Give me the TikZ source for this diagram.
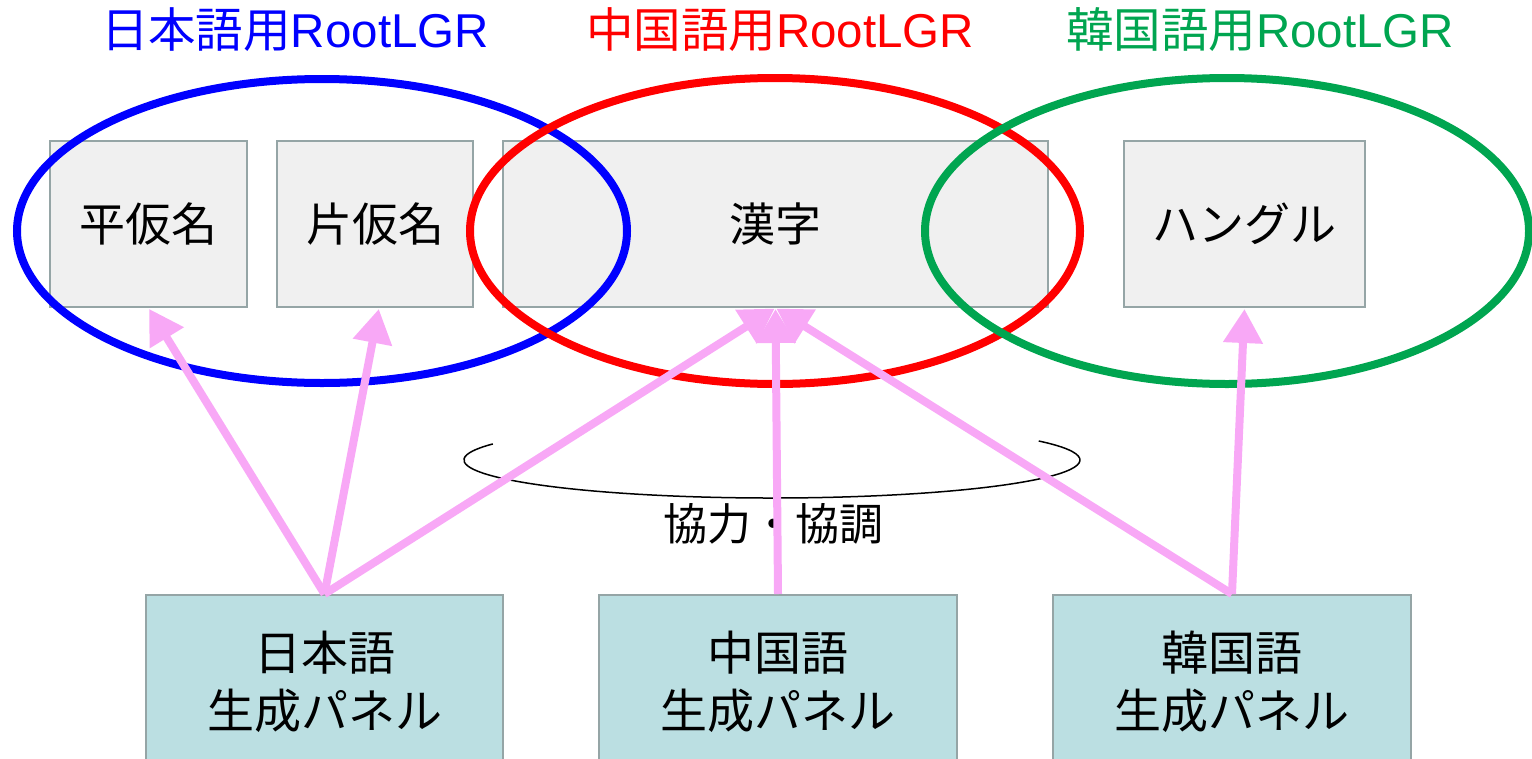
\documentclass[tikz,border=0pt]{standalone}
\usepackage{fontspec}
\setmainfont{Liberation Sans}
\newfontfamily\cjk{Noto Sans CJK JP}
\usetikzlibrary{arrows.meta}
\definecolor{jblue}{HTML}{0000FF}
\definecolor{cred}{HTML}{FF0000}
\definecolor{kgreen}{HTML}{00A550}
\definecolor{pinkarrow}{HTML}{F8A8F6}
\definecolor{boxgrey}{HTML}{F0F0F0}
\definecolor{boxborder}{HTML}{95A5A6}
\definecolor{paneltc}{HTML}{BBDFE2}
\tikzset{
  script/.style={inner sep=0pt, font=\cjk\fontsize{44}{52}\selectfont, text=black},
  charbox/.style={draw=boxborder, line width=2pt, fill=boxgrey, anchor=north west, inner sep=0pt,
    font=\cjk\fontsize{46}{54}\selectfont},
  panel/.style={draw=boxborder, line width=2pt, fill=paneltc, anchor=north west, inner sep=0pt,
    font=\cjk\fontsize{47}{58}\selectfont, align=center},
  title/.style={inner sep=0pt, font=\fontsize{47.5}{56}\selectfont},
  ring/.style={line width=8pt},
  link/.style={draw=pinkarrow, line width=8pt, -{Triangle[length=34pt,width=38pt]}, shorten >=1pt},
}
\begin{document}
\begin{tikzpicture}[x=1pt,y=-1pt]
\useasboundingbox (0,0) rectangle (1532,758);
% titles
\node[title, text=jblue] (tj) at (295,30) {{\cjk 日本語用}RootLGR};
\node[title, text=cred] (tc) at (780,30) {{\cjk 中国語用}RootLGR};
\node[title, text=kgreen] (tk) at (1260,30) {{\cjk 韓国語用}RootLGR};
% script boxes
\node[charbox, minimum width=197pt, minimum height=166pt] (hira) at (49,140) {平仮名};
\node[charbox, minimum width=196pt, minimum height=166pt] (kata) at (276,140) {片仮名};
\node[charbox, minimum width=545pt, minimum height=166pt] (kanji) at (502,140) {漢字};
\node[charbox, minimum width=241pt, minimum height=166pt] (hangul) at (1123,140) {ハングル};
% ellipses
\draw[ring, draw=jblue] (322,231) ellipse [x radius=305, y radius=152];
\draw[ring, draw=cred] (775,231) ellipse [x radius=305, y radius=153];
\draw[ring, draw=kgreen] (1227,231) ellipse [x radius=302, y radius=153];
% panels
\node[panel, minimum width=357pt, minimum height=174pt] (pj) at (145,594) {日本語\\生成パネル};
\node[panel, minimum width=358pt, minimum height=174pt] (pc) at (598,594) {中国語\\生成パネル};
\node[panel, minimum width=358pt, minimum height=174pt] (pk) at (1052,594) {韓国語\\生成パネル};
% cooperation arc
\draw[line width=1.5pt, black] (772,460) ++(205:308 and 38) arc[start angle=205, end angle=-30, x radius=308, y radius=38];
\node[script] (coop) at (773,524) {協力・協調};
% arrows
\draw[link] (pj.north) -- (hira.south);
\draw[link] (pj.north) -- ([xshift=4pt]kata.south);
\draw[link] (pj.north) -- (kanji.south);
\draw[link] (pc.north) -- (kanji.south);
\draw[link] (pk.north) -- (kanji.south);
\draw[link] (pk.north) -- (hangul.south);
\end{tikzpicture}
\end{document}
